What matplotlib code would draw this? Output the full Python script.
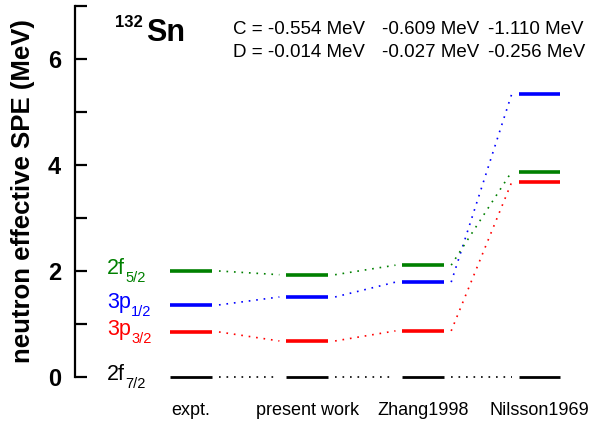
import matplotlib
matplotlib.use('Agg')
import matplotlib.pyplot as plt

plt.rcParams['font.family'] = ['Liberation Sans', 'DejaVu Sans']

# ── Data (MeV) ────────────────────────────────────────────────────────────────
categories = ['expt.', 'present work', 'Zhang1998', 'Nilsson1969']
f72 = [0.00, 0.00, 0.00, 0.00]
p32 = [0.85, 0.68, 0.87, 3.67]
p12 = [1.36, 1.51, 1.79, 5.33]
f52 = [2.00, 1.93, 2.11, 3.87]

level_names = ['2f', '3p', '3p', '2f']
level_subs = ['7/2', '3/2', '1/2', '5/2']
level_colors = ['black', '#ff0000', '#0000ff', '#008000']

c_vals = ['C = -0.554 MeV', '-0.609 MeV', '-1.110 MeV']
d_vals = ['D = -0.014 MeV', '-0.027 MeV', '-0.256 MeV']

HALF = 0.18   # half width of a level bar
GAP = 0.06    # gap between bar end and connector

fig = plt.figure(figsize=(5.94, 4.26), dpi=100)
ax = fig.add_axes([0.1263, 0.115, 0.8737, 0.871])

for vals, col in zip([f72, p32, p12, f52], level_colors):
    lw = 2.0 if col == 'black' else 2.6
    for i, v in enumerate(vals):
        ax.plot([i - HALF, i + HALF], [v, v], color=col, lw=lw,
                solid_capstyle='butt', clip_on=False, zorder=3)
    for i in range(len(vals) - 1):
        ax.plot([i + HALF + GAP, i + 1 - HALF - GAP], [vals[i], vals[i + 1]],
                color=col, lw=1.2, linestyle=(0, (1, 3.5)), clip_on=False)

# level labels at left (main text + lowered subscript)
for vals, name, sub, col in zip([f72, p32, p12, f52], level_names,
                                level_subs, level_colors):
    t = ax.text(-0.725, vals[0] - 0.06, name, color=col, fontsize=15.5,
                ha='left', va='baseline')
    ax.annotate(sub, xy=(1, 0), xycoords=t, xytext=(0.3, -1.8),
                textcoords='offset points', color=col, fontsize=10.5,
                ha='left', va='baseline')

# nucleus label
ax.text(-0.655, 6.60, '132', fontsize=12, ha='left', va='baseline',
        fontweight='bold')
ax.text(-0.385, 6.34, 'Sn', fontsize=22, fontweight='bold', ha='left',
        va='baseline')

# C / D parameters
cx = [0.36, 1.64, 2.555]
for x, c, d in zip(cx, c_vals, d_vals):
    ax.text(x, 6.55, c, fontsize=13.5, ha='left', va='center')
    ax.text(x, 6.13, d, fontsize=13.5, ha='left', va='center')

ax.set_xlim(-1.0, 3.47)
ax.set_ylim(0, 7)
ax.set_xticks(range(len(categories)))
ax.set_xticklabels(categories, fontsize=13)
ax.tick_params(axis='x', length=0, pad=18)
ax.set_yticks([0, 2, 4, 6])
ax.set_yticks([1, 3, 5, 7], minor=True)
ax.tick_params(axis='y', which='both', direction='in', length=8.5, width=1.6,
               pad=10, labelsize=17)
for lab in ax.get_yticklabels():
    lab.set_fontweight('bold')
ax.set_ylabel('neutron effective SPE (MeV)', fontsize=18.5, fontweight='bold')
ax.yaxis.set_label_coords(-0.078, 0.5)

for s in ['top', 'right', 'bottom']:
    ax.spines[s].set_visible(False)
ax.spines['left'].set_linewidth(1.6)
ax.patch.set_visible(False)

fig.savefig('out.png', dpi=100)
